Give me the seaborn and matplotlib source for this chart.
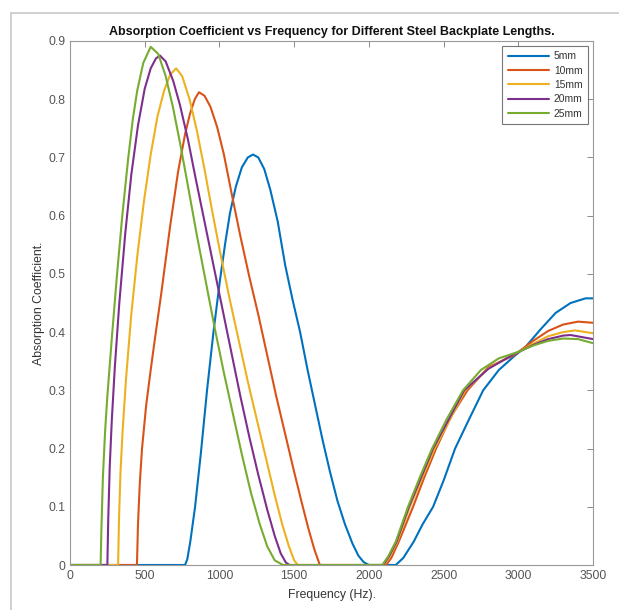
import matplotlib
matplotlib.use("Agg")
import matplotlib.pyplot as plt
from matplotlib.lines import Line2D
import seaborn as sns
import pandas as pd

labels = ["5mm", "10mm", "15mm", "20mm", "25mm"]
colors = ["#0072BD", "#D95319", "#EDB120", "#7E2F8E", "#77AC30"]

f_5 = [0, 770, 785, 805, 837, 875, 917, 960, 1004, 1040, 1071, 1110, 1150, 1190, 1225,
       1260, 1300, 1340, 1390, 1440, 1490, 1540, 1590, 1640, 1690, 1740, 1790, 1840,
       1890, 1930, 1965, 2000, 2180, 2230, 2300, 2360, 2430, 2500, 2577, 2670,
       2765, 2870, 2970, 3050, 3150, 3250, 3350, 3450, 3500]
a_5 = [0, 0, 0.01, 0.04, 0.10, 0.19, 0.30, 0.40, 0.49, 0.555, 0.605, 0.65, 0.683, 0.70, 0.705,
       0.70, 0.68, 0.645, 0.59, 0.515, 0.455, 0.40, 0.335, 0.275, 0.215, 0.16, 0.11, 0.07,
       0.037, 0.016, 0.005, 0, 0, 0.012, 0.04, 0.07, 0.10, 0.145, 0.20, 0.25,
       0.30, 0.335, 0.358, 0.375, 0.405, 0.433, 0.45, 0.458, 0.458]

f_10 = [0, 448, 455, 467, 482, 510, 540, 569, 610, 669, 723, 770, 803, 835, 863,
        900, 940, 985, 1030, 1084, 1140, 1200, 1260, 1320, 1380, 1440, 1500, 1550,
        1595, 1635, 1672, 2115, 2150, 2200, 2296, 2370, 2450, 2550, 2660,
        2800, 2970, 3100, 3200, 3300, 3400, 3500]
a_10 = [0, 0, 0.07, 0.14, 0.20, 0.275, 0.335, 0.39, 0.465, 0.58, 0.675, 0.74, 0.775, 0.80, 0.812,
        0.806, 0.787, 0.752, 0.705, 0.635, 0.565, 0.495, 0.43, 0.36, 0.29, 0.225, 0.16, 0.108,
        0.063, 0.027, 0, 0, 0.012, 0.04, 0.10, 0.15, 0.20, 0.255, 0.30,
        0.34, 0.36, 0.385, 0.402, 0.413, 0.418, 0.416]

f_15 = [0, 322, 328, 338, 352, 375, 410, 450, 495, 540, 585, 630, 670, 710,
        750, 800, 850, 900, 950, 1010, 1070, 1130, 1190, 1250, 1310, 1370, 1420,
        1465, 1500, 1525, 2100, 2140, 2190, 2275, 2440, 2645, 2800, 2970, 3100, 3200,
        3300, 3380, 3500]
a_15 = [0, 0, 0.08, 0.16, 0.23, 0.32, 0.43, 0.53, 0.625, 0.705, 0.77, 0.815, 0.842, 0.853,
        0.84, 0.80, 0.745, 0.68, 0.61, 0.53, 0.455, 0.385, 0.315, 0.25, 0.185, 0.12,
        0.07, 0.032, 0.008, 0, 0, 0.015, 0.04, 0.10, 0.20, 0.30, 0.338, 0.362, 0.38,
        0.393, 0.40, 0.403, 0.398]

f_20 = [0, 250, 256, 266, 280, 300, 330, 370, 410, 455, 500, 540, 575, 602,
        640, 690, 736, 790, 840, 900, 960, 1020, 1080, 1140, 1200, 1260, 1320, 1370,
        1410, 1445, 1470, 2095, 2135, 2185, 2268, 2430, 2638, 2800, 2970, 3100, 3200,
        3300, 3350, 3500]
a_20 = [0, 0, 0.08, 0.17, 0.25, 0.34, 0.45, 0.57, 0.67, 0.755, 0.818, 0.853, 0.87, 0.875,
        0.865, 0.832, 0.79, 0.73, 0.665, 0.59, 0.515, 0.44, 0.365, 0.29, 0.22, 0.155,
        0.095, 0.05, 0.02, 0.004, 0, 0, 0.015, 0.04, 0.10, 0.20, 0.30, 0.337, 0.362,
        0.378, 0.388, 0.394, 0.395, 0.388]

f_25 = [0, 205, 210, 220, 235, 250, 280, 315, 350, 388, 420, 450, 490, 540,
        590, 640, 690, 740, 790, 850, 910, 970, 1030, 1090, 1150, 1210, 1270,
        1320, 1370, 1425, 2090, 2130, 2180, 2262, 2340, 2423, 2520, 2630, 2750, 2870, 3000,
        3100, 3200, 3300, 3400, 3500]
a_25 = [0, 0, 0.06, 0.15, 0.23, 0.29, 0.39, 0.50, 0.60, 0.695, 0.765, 0.815, 0.862, 0.89,
        0.878, 0.84, 0.785, 0.72, 0.65, 0.565, 0.485, 0.405, 0.33, 0.26, 0.19, 0.125, 0.07,
        0.032, 0.008, 0, 0, 0.015, 0.04, 0.10, 0.15, 0.20, 0.25, 0.30, 0.335, 0.355, 0.366,
        0.377, 0.385, 0.389, 0.388, 0.381]

freqs = [f_5, f_10, f_15, f_20, f_25]
alphas = [a_5, a_10, a_15, a_20, a_25]

rows = []
for lab, fs, al in zip(labels, freqs, alphas):
    for f, a in zip(fs, al):
        rows.append({"Frequency": f, "Alpha": a, "Length": lab})
df = pd.DataFrame(rows)

sns.set_style("white")
plt.rcParams["font.family"] = ["Liberation Sans", "DejaVu Sans"]

fig = plt.figure(figsize=(6.19, 6.10), dpi=100)
ax = fig.add_axes([70 / 619, 1 - 565 / 610, 523 / 619, 524 / 610])

sns.lineplot(data=df, x="Frequency", y="Alpha", hue="Length", hue_order=labels,
             palette=colors, estimator=None, sort=False, linewidth=1.5, ax=ax)

ax.set_xlim(0, 3500)
ax.set_ylim(0, 0.9)
ax.set_xticks([0, 500, 1000, 1500, 2000, 2500, 3000, 3500])
ax.set_yticks([0, 0.1, 0.2, 0.3, 0.4, 0.5, 0.6, 0.7, 0.8, 0.9])
ax.set_yticklabels(["0", "0.1", "0.2", "0.3", "0.4", "0.5", "0.6", "0.7", "0.8", "0.9"])
tick_col = "#555555"
ax.tick_params(direction="in", length=4, width=0.6, colors="#777777",
               labelcolor=tick_col, labelsize=8.8, top=True, right=True, pad=3.5)
for s in ax.spines.values():
    s.set_color("#999999")
    s.set_linewidth(0.8)

ax.set_xlabel("Frequency (Hz).", fontsize=8.8, color="#333333", labelpad=5)
ax.set_ylabel("Absorption Coefficient.", fontsize=8.8, color="#333333", labelpad=2)
ax.set_title("Absorption Coefficient vs Frequency for Different Steel Backplate Lengths.",
             fontsize=9, fontweight="bold", color="#111111", pad=4)

leg = ax.legend(loc="upper right", fontsize=7.4, frameon=True, fancybox=False,
                handlelength=4.0, handletextpad=0.5, borderpad=0.55, labelspacing=0.42,
                borderaxespad=0.45)
leg.get_frame().set_edgecolor("#555555")
leg.get_frame().set_linewidth(0.8)
for t in leg.get_texts():
    t.set_color("#333333")

# figure frame lines
fig.add_artist(Line2D([11 / 619, 11 / 619], [0, 1 - 13 / 610], transform=fig.transFigure,
                      color="#c8c8c8", linewidth=1.2))
fig.add_artist(Line2D([11 / 619, 1], [1 - 13 / 610, 1 - 13 / 610], transform=fig.transFigure,
                      color="#c8c8c8", linewidth=1.2))

fig.savefig("out.png", dpi=100)
